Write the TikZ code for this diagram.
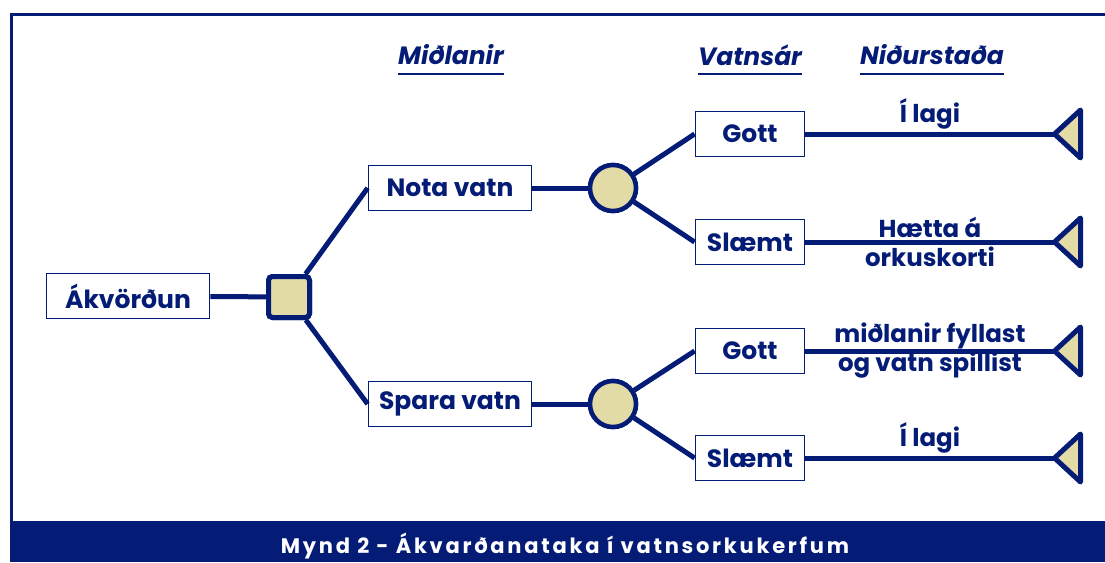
\documentclass[tikz,border=0pt]{standalone}
\usepackage{fontspec}
\setmainfont{Poppins}
\newfontfamily\capfont[LetterSpace=13]{Poppins}
\usetikzlibrary{positioning}
\definecolor{navy}{RGB}{4,28,118}
\definecolor{sand}{RGB}{227,219,166}

\begin{document}
\begin{tikzpicture}[x=1pt,y=-1pt,
    box/.style={rectangle,draw=navy,line width=1.8pt,fill=white,minimum height=45pt,inner sep=0pt,text=navy,font=\bfseries\fontsize{25}{29}\selectfont},
    decision/.style={rectangle,draw=navy,fill=sand,line width=5pt,minimum size=41pt,rounded corners=4pt,inner sep=0pt},
    chance/.style={circle,draw=navy,fill=sand,line width=4.5pt,minimum size=46pt,inner sep=0pt},
    leaf/.style={draw=navy,fill=sand,line width=5pt,line join=round},
    header/.style={inner sep=0pt,text=navy,font=\bfseries\itshape\fontsize{25}{29}\selectfont},
    outcome/.style={inner sep=0pt,text=navy,align=center,font=\bfseries\fontsize{24.5}{29}\selectfont}]
    \useasboundingbox (0,0) rectangle (1105,562);

    % frame and caption bar
    \draw[navy,line width=3pt] (11.5,521) -- (11.5,14) -- (1105,14);
    \fill[navy] (10,521) rectangle (1105,562);
    \node[text=white,font=\capfont\bfseries\fontsize{21}{25}\selectfont] (cap) at (565,546.5) {Mynd 2 - Ákvarðanataka í vatnsorkukerfum};

    % column headers
    \node[header] (h1) at (451,55) {Miðlanir};
    \node[header] (h2) at (750,55) {Vatnsár};
    \node[header] (h3) at (932,55) {Niðurstaða};
    \foreach \h in {h1,h2,h3}
        \draw[navy,line width=2pt] ([yshift=-9pt]\h.base west) -- ([yshift=-9pt]\h.base east);

    \node[box,minimum width=163pt] (akv) at (128,296) {Ákvörðun};
    \node[decision] (dec) at (289,297) {};
    \node[box,minimum width=163pt] (nota) at (450,188) {Nota vatn};
    \node[box,minimum width=163pt] (spara) at (450,404) {Spara vatn};
    \node[chance] (c1) at (613,188) {};
    \node[chance] (c2) at (613,404) {};
    \node[box,minimum width=109pt] (g1) at (750,134) {Gott};
    \node[box,minimum width=109pt] (s1) at (750,242) {Slæmt};
    \node[box,minimum width=109pt] (g2) at (750,351) {Gott};
    \node[box,minimum width=109pt] (s2) at (750,458) {Slæmt};
    \coordinate (e1) at (1054.5,134);
    \coordinate (e2) at (1054.5,242);
    \coordinate (e3) at (1054.5,351);
    \coordinate (e4) at (1054.5,458);

    \path[navy,line width=5pt]
        (akv) edge (dec)
        (dec) edge (nota.west)
        (dec) edge (spara.west)
        (nota) edge (c1)
        (spara) edge (c2)
        (c1) edge (g1.west)
        (c1) edge (s1.west)
        (c2) edge (g2.west)
        (c2) edge (s2.west)
        (g1) edge node[outcome,above=2pt] {Í lagi} (e1)
        (s1) edge node[outcome] {Hætta á\\orkuskorti} (e2)
        (g2) edge node[outcome] {miðlanir fyllast\\og vatn spillist} (e3)
        (s2) edge node[outcome,above=2pt] {Í lagi} (e4);

    % end points
    \foreach \e in {e1,e2,e3,e4}
        \draw[leaf] (\e) -- ++(26,-24) -- ++(0,48) -- cycle;

    % redraw nodes above the connectors
    \node[decision] at (dec) {};
    \node[chance] at (c1) {};
    \node[chance] at (c2) {};
\end{tikzpicture}
\end{document}
